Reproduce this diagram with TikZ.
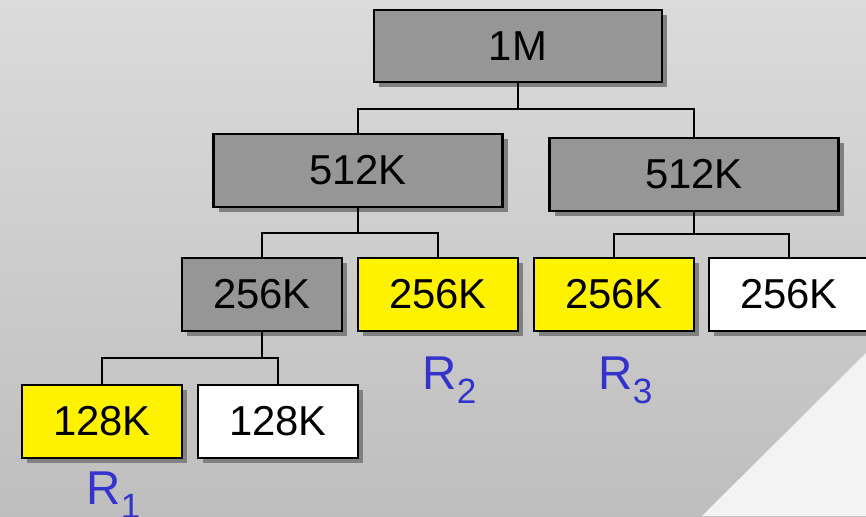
\documentclass[tikz,border=0pt]{standalone}
\usepackage{fontspec}
\setmainfont{Liberation Sans}
\usetikzlibrary{shadows}

\definecolor{bgtop}{RGB}{219,219,219}
\definecolor{bgbot}{RGB}{190,190,190}
\definecolor{corner}{RGB}{243,243,243}
\definecolor{tagblue}{RGB}{51,51,204}

\newcommand{\lowsub}[1]{\raisebox{-0.14cm}{\fontsize{10}{12}\selectfont #1}}

\tikzset{
  blk/.style={draw=black, line width=0.6pt, minimum height=0.73cm, inner sep=0pt,
    font=\fontsize{11.9}{14}\selectfont,
    drop shadow={shadow xshift=0.05cm, shadow yshift=-0.05cm, fill=black!50, opacity=1}},
  used/.style={blk, fill=black!41},
  held/.style={blk, fill=yellow},
  free/.style={blk, fill=white},
  tag/.style={text=tagblue, font=\fontsize{13.5}{16}\selectfont, anchor=base west, inner sep=0pt}
}

\begin{document}
\begin{tikzpicture}

\useasboundingbox (0,0) rectangle (8.66,-5.16);
\clip (0,0) rectangle (8.66,-5.16);

% backdrop
\shade [top color=bgtop, bottom color=bgbot] (0,0) rectangle (8.66,-5.16);
\fill [corner] (8.66,-3.53) -- (7.02,-5.16) -- (8.66,-5.16) -- cycle;

% blocks, one row per level
\node [used, minimum width=2.88cm, minimum height=0.72cm] (m1) at (5.18,-0.46) {1M};

\node [used, minimum width=2.89cm] (a1) at (3.58,-1.705) {512K};
\node [used, minimum width=2.89cm] (a2) at (6.94,-1.745) {512K};

\node [used, minimum width=1.6cm] (b1) at (2.62,-2.945) {256K};
\node [held, minimum width=1.6cm] (b2) at (4.38,-2.945) {256K};
\node [held, minimum width=1.6cm] (b3) at (6.14,-2.945) {256K};
\node [free, minimum width=1.6cm] (b4) at (7.89,-2.945) {256K};

\node [held, minimum width=1.6cm] (c1) at (1.02,-4.215) {128K};
\node [free, minimum width=1.6cm] (c2) at (2.78,-4.215) {128K};

\coordinate (j1) at (5.18,-1.09);
\coordinate (j2) at (3.58,-2.33);
\coordinate (j3) at (6.94,-2.34);
\coordinate (j4) at (2.62,-3.58);

\begin{scope}[line width=0.6pt]
\draw (m1) -- (j1);
\draw (a1) |- (j1) -| (a2);
\draw (a1) -- (j2);
\draw (b1) |- (j2) -| (b2);
\draw (a2) -- (j3);
\draw (b3) |- (j3) -| (b4);
\draw (b1) -- (j4);
\draw (c1) |- (j4) -| (c2);
\end{scope}

\node [tag] (r1) at (0.86,-5.04) {R\lowsub{1}};
\node [tag] (r2) at (4.22,-3.89) {R\lowsub{2}};
\node [tag] (r3) at (5.98,-3.89) {R\lowsub{3}};

\end{tikzpicture}
\end{document}
